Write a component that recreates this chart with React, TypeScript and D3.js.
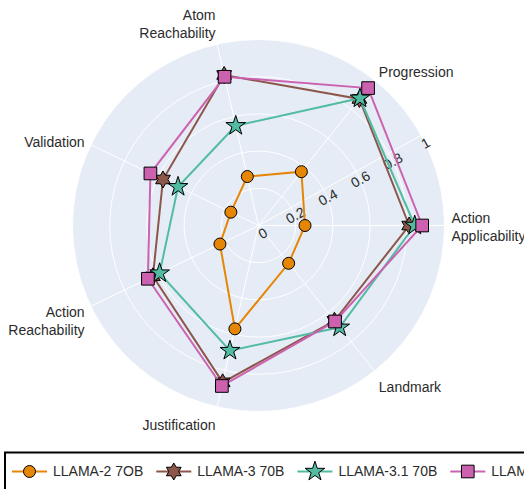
import React, { useEffect, useRef } from "react";
import * as d3 from "d3";

// categories go counter-clockwise starting at 3 o'clock
const categories = [
  "Action\nApplicability",
  "Progression",
  "Atom\nReachability",
  "Validation",
  "Action\nReachability",
  "Justification",
  "Landmark",
];

const seriesNames = ["LLAMA-2 7OB", "LLAMA-3 70B", "LLAMA-3.1 70B", "LLAMA-3.1 405B"];

const llama2 = [0.25, 0.37, 0.27, 0.165, 0.23, 0.57, 0.26];
const llama3 = [0.81, 0.87, 0.83, 0.57, 0.63, 0.865, 0.655];
const llama31 = [0.84, 0.875, 0.55, 0.48, 0.59, 0.69, 0.7];
const llama405 = [0.88, 0.945, 0.82, 0.645, 0.66, 0.885, 0.66];

const radialTicks = [0, 0.2, 0.4, 0.6, 0.8, 1];

const colors = ["#E58606", "#8C564B", "#52BCA3", "#CC61B0"];
const markers = ["circle", "star6", "star", "square"];

const W = 524;
const H = 489;
const cx = 258.5;
const cy = 225.5;
const R = 186;
const radialAngle = (29 * Math.PI) / 180;
const textColor = "#2b2b2b";
const font = "Liberation Sans, Arial, sans-serif";

function star6(r: number) {
  const pts: [number, number][] = [];
  for (let i = 0; i < 12; i++) {
    const a = (i * Math.PI) / 6 - Math.PI / 2;
    const rr = i % 2 === 0 ? r : r * 0.58;
    pts.push([rr * Math.cos(a), rr * Math.sin(a)]);
  }
  return "M" + pts.map((p) => p.join(",")).join("L") + "Z";
}

function markerPath(kind: string) {
  if (kind === "circle") return d3.symbol(d3.symbolCircle, 113)()!;
  if (kind === "square") return d3.symbol(d3.symbolSquare, 160)()!;
  if (kind === "star") return d3.symbol(d3.symbolStar, 120)()!;
  return star6(8.5);
}

const App = () => {
  const ref = useRef<SVGSVGElement>(null);

  useEffect(() => {
    const svg = d3.select(ref.current);
    svg.selectAll("*").remove();

    const series = [llama2, llama3, llama31, llama405];
    const rScale = d3.scaleLinear().domain([0, 1]).range([0, R]);
    const aScale = d3.scaleLinear().domain([0, categories.length]).range([0, 2 * Math.PI]);
    const px = (i: number, v: number) => cx + rScale(v) * Math.cos(aScale(i));
    const py = (i: number, v: number) => cy - rScale(v) * Math.sin(aScale(i));

    // background disk + grid
    svg.append("circle").attr("cx", cx).attr("cy", cy).attr("r", R).attr("fill", "#E5ECF6");
    svg
      .append("g")
      .selectAll("circle")
      .data(radialTicks.filter((t) => t > 0))
      .join("circle")
      .attr("cx", cx)
      .attr("cy", cy)
      .attr("r", (d) => rScale(d))
      .attr("fill", "none")
      .attr("stroke", "#fff")
      .attr("stroke-width", 1);
    svg
      .append("g")
      .selectAll("line")
      .data(categories)
      .join("line")
      .attr("x1", cx)
      .attr("y1", cy)
      .attr("x2", (d, i) => px(i, 1))
      .attr("y2", (d, i) => py(i, 1))
      .attr("stroke", "#fff")
      .attr("stroke-width", 1);
    svg
      .append("line")
      .attr("x1", cx)
      .attr("y1", cy)
      .attr("x2", cx + R * Math.cos(radialAngle))
      .attr("y2", cy - R * Math.sin(radialAngle))
      .attr("stroke", "#fff")
      .attr("stroke-width", 1);

    // radial tick labels
    const deg = (radialAngle * 180) / Math.PI;
    svg
      .append("g")
      .selectAll("text")
      .data(radialTicks)
      .join("text")
      .attr("transform", (d) => {
        const x = cx + rScale(d) * Math.cos(radialAngle) + Math.sin(radialAngle) * 9;
        const y = cy - rScale(d) * Math.sin(radialAngle) + Math.cos(radialAngle) * 9;
        return `translate(${x},${y}) rotate(${-deg})`;
      })
      .attr("text-anchor", "middle")
      .attr("dy", "0.35em")
      .attr("font-family", font)
      .attr("font-size", 14)
      .attr("fill", textColor)
      .text((d) => d3.format("~g")(d));

    // angular labels (plotly-style placement)
    const fs = 14;
    const pad = 7;
    const lh = 18;
    const lab = svg.append("g");
    categories.forEach((c, i) => {
      const a = aScale(i);
      const cos = Math.cos(a);
      const sin = Math.sin(a);
      const lines = c.split("\n");
      const x = cx + R * cos + pad * cos;
      let y = cy - R * sin - sin * (pad + fs * (sin > 0 ? 0.2 : 1)) + Math.abs(cos) * fs * 0.35 + 2;
      y += -0.5 * (1 + sin) * (lines.length - 1) * lh;
      const anchor = Math.abs(cos) < 0.1 ? "middle" : cos > 0 ? "start" : "end";
      const t = lab
        .append("text")
        .attr("text-anchor", anchor)
        .attr("font-family", font)
        .attr("font-size", fs)
        .attr("fill", textColor);
      lines.forEach((l, k) => {
        t.append("tspan").attr("x", x).attr("y", y + k * lh).text(l);
      });
    });

    // traces
    const lineGen = d3
      .line<number>()
      .x((v, i) => px(i, v))
      .y((v, i) => py(i, v))
      .curve(d3.curveLinearClosed);

    series.forEach((vals, s) => {
      const g = svg.append("g");
      g.append("path")
        .attr("d", lineGen(vals))
        .attr("fill", "none")
        .attr("stroke", colors[s])
        .attr("stroke-width", 2);
      g.selectAll("path.m")
        .data(vals)
        .join("path")
        .attr("class", "m")
        .attr("d", markerPath(markers[s]))
        .attr("transform", (v, i) => `translate(${px(i, v)},${py(i, v)})`)
        .attr("fill", colors[s])
        .attr("stroke", "#000")
        .attr("stroke-width", 1);
    });

    // legend (runs past the right edge, as in the source figure)
    const leg = svg.append("g");
    leg
      .append("rect")
      .attr("x", 5)
      .attr("y", 452.5)
      .attr("width", 640)
      .attr("height", 40)
      .attr("fill", "#fff")
      .attr("stroke", "#000")
      .attr("stroke-width", 2);
    let lx = 12;
    const ly = 471.5;
    seriesNames.forEach((name, s) => {
      const item = leg.append("g");
      item
        .append("line")
        .attr("x1", lx)
        .attr("x2", lx + 35)
        .attr("y1", ly)
        .attr("y2", ly)
        .attr("stroke", colors[s])
        .attr("stroke-width", 2);
      item
        .append("path")
        .attr("d", markerPath(markers[s]))
        .attr("transform", `translate(${lx + 17.5},${ly})`)
        .attr("fill", colors[s])
        .attr("stroke", "#000")
        .attr("stroke-width", 1);
      const t = item
        .append("text")
        .attr("x", lx + 41)
        .attr("y", ly)
        .attr("dy", "0.35em")
        .attr("font-family", font)
        .attr("font-size", 14)
        .attr("fill", textColor)
        .text(name);
      const w = (t.node() as SVGTextElement).getComputedTextLength();
      lx += 41 + w + 13;
    });
  }, []);

  return (
    <svg
      ref={ref}
      width={W}
      height={H}
      style={{ position: "absolute", left: 0, top: 0, background: "#fff" }}
    />
  );
};

export default App;
